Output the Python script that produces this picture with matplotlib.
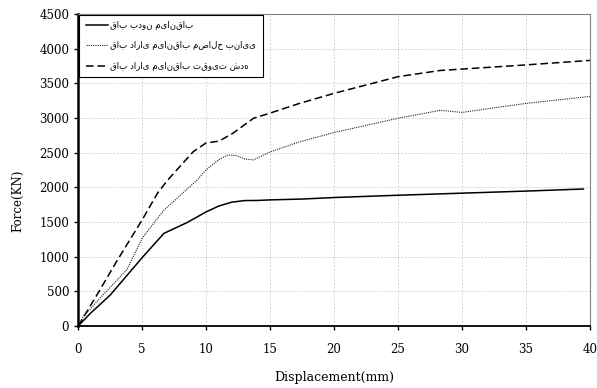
import numpy as np
import matplotlib
matplotlib.use('Agg')
from matplotlib import pyplot as plt

# displacement (mm) / force (KN)
x_bare = [0, 1, 2.5, 5, 6.7, 8.5, 10, 11, 12, 13, 14, 15, 17.5, 20, 25, 30, 35, 39.5]
y_bare = [0, 190, 445, 985, 1335, 1490, 1645, 1730, 1785, 1808, 1810, 1818, 1830, 1852, 1885, 1915, 1945, 1975]

x_mas = [0, 0.4, 1.7, 3.8, 5, 6.7, 9.3, 10, 11, 11.7, 12.3, 13, 13.7, 15, 17.3, 20, 25, 28.3, 30, 35, 40]
y_mas = [0, 135, 400, 810, 1265, 1670, 2105, 2250, 2400, 2466, 2460, 2410, 2395, 2510, 2655, 2790, 2995, 3110, 3080, 3210, 3310]

x_inf = [0, 1.7, 3, 5, 6.2, 7, 9, 10, 11, 12.1, 13.7, 15, 17.3, 20, 25, 28.3, 30, 35, 40]
y_inf = [0, 520, 930, 1530, 1915, 2105, 2515, 2640, 2665, 2780, 2995, 3070, 3210, 3355, 3595, 3685, 3705, 3765, 3830]

labels = ['قاب بدون میانقاب',
          'قاب دارای میانقاب مصالح بنایی',
          'قاب دارای میانقاب تقویت شده']

plt.rcParams['font.family'] = ['DejaVu Serif']

f, ax = plt.subplots(1, 1, figsize=(5.97, 3.88), dpi=100)
f.subplots_adjust(left=0.131, right=0.988, top=0.964, bottom=0.16)

ax.plot(x_bare, y_bare, 'k-', lw=1.1, label=labels[0])
ax.plot(x_mas, y_mas, color='#222222', ls=(0, (1, 1)), lw=0.8, label=labels[1])
ax.plot(x_inf, y_inf, color='k', lw=1.1, dashes=(5, 2.5), label=labels[2])

ax.set_xlim(0, 40)
ax.set_ylim(0, 4500)
ax.set_xticks(np.arange(0, 41, 5))
ax.set_yticks(np.arange(0, 4501, 500))
ax.grid(True, ls=(0, (3, 2)), lw=0.5, color='#c8c8c8')
ax.set_axisbelow(True)

ax.spines['left'].set_linewidth(1.8)
ax.spines['bottom'].set_linewidth(1.3)
for s in ['top', 'right']:
    ax.spines[s].set_color('#808080')
    ax.spines[s].set_linewidth(0.8)

ax.tick_params(axis='both', labelsize=8.5, direction='out', length=3, width=1)
ax.tick_params(axis='x', pad=9)
ax.set_xlabel('Displacement(mm)', fontsize=9, labelpad=11)
ax.set_ylabel('Force(KN)', fontsize=8.5)
ax.yaxis.set_label_coords(-0.105, 0.40)

leg = ax.legend(loc='upper left', prop={'family': 'DejaVu Sans', 'size': 6.2},
                fancybox=False, edgecolor='k', framealpha=1, borderaxespad=0.15,
                handlelength=2.6, handletextpad=0.3, labelspacing=1.3, borderpad=0.7)
leg.get_frame().set_linewidth(0.8)

plt.savefig('out.png', dpi=100)
